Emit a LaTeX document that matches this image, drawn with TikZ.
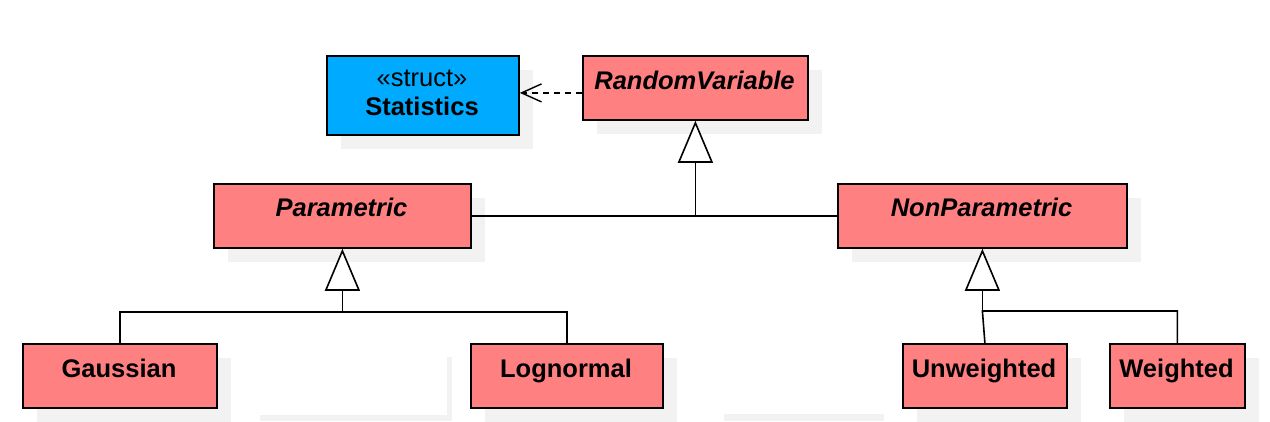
\documentclass[tikz,border=0pt]{standalone}
\usepackage{fontspec}
\setmainfont{Liberation Sans}
\usetikzlibrary{arrows.meta,shadows}
\definecolor{pinkc}{HTML}{FF8080}
\definecolor{bluec}{HTML}{00AAFF}
\definecolor{shadowc}{HTML}{F2F2F2}
\begin{document}
\begin{tikzpicture}[x=1pt,y=-1pt,
  box/.style={draw=black, line width=1.8pt, rectangle, inner sep=0pt, anchor=north west, fill=pinkc,
    drop shadow={shadow xshift=14pt, shadow yshift=-14pt, fill=shadowc, opacity=1}},
  lbl/.style={anchor=base, inner sep=0pt, font=\fontsize{25.5}{30}\selectfont\bfseries},
  ilbl/.style={lbl, font=\fontsize{25.5}{30}\selectfont\bfseries\itshape},
  conn/.style={line width=1.6pt, draw=black},
  inh/.style={conn, -{Triangle[length=42pt,width=35pt,fill=white,line width=1.6pt]}},
  dep/.style={line width=1.4pt, dash pattern=on 6pt off 5pt, -{Straight Barb[length=20pt,width=18pt,line width=1.4pt]}}
]
\useasboundingbox (0,0) rectangle (1270,421);
% stray shadow fragments of hidden elements
\fill[shadowc] (447,357) rectangle (452,421);
\fill[shadowc] (260,415) rectangle (452,421);
\fill[shadowc] (724,414) rectangle (884,421);

% classes
\node[box, fill=bluec, minimum width=192pt, minimum height=79pt] (stat) at (326,55) {};
\node[box, minimum width=225pt, minimum height=64pt] (rv) at (582,55) {};
\node[box, minimum width=257pt, minimum height=64pt] (par) at (213,183) {};
\node[box, minimum width=289pt, minimum height=64pt] (np) at (837,183) {};
\node[box, minimum width=194pt, minimum height=64pt] (gau) at (22,343) {};
\node[box, minimum width=192pt, minimum height=64pt] (logn) at (470,343) {};
\node[box, minimum width=164pt, minimum height=64pt] (uw) at (902,343) {};
\node[box, minimum width=135pt, minimum height=64pt] (wt) at (1109,343) {};

% labels
\node[lbl, font=\fontsize{25.5}{30}\selectfont] (tster) at (422,86) {«struct»};
\node[lbl] (tstat) at (422,115) {Statistics};
\node[ilbl] (trv) at (694.5,89) {RandomVariable};
\node[ilbl] (tpar) at (341.5,216) {Parametric};
\node[ilbl] (tnp) at (981.5,216) {NonParametric};
\node[lbl] (tgau) at (119,377) {Gaussian};
\node[lbl] (tlogn) at (566,377) {Lognormal};
\node[lbl] (tuw) at (984,377) {Unweighted};
\node[lbl] (twt) at (1176.5,377) {Weighted};

% connectors
\draw[dep] ([yshift=-5pt]rv.west) -- ([yshift=-5pt]stat.east |- rv.west);

\coordinate (j1) at (rv.south |- par.east);
\draw[conn] (par.east) -- (np.west);
\draw[inh] (j1) -- (rv.south);

\coordinate (j2) at (par.south |- 0,312);
\draw[conn] (gau.north) |- (j2) -| (logn.north);
\draw[inh] (j2) -- (par.south);

\coordinate (j3) at (np.south |- 0,311);
\draw[conn] (uw.north) -- (j3) -| (wt.north);
\draw[inh] (j3) -- (np.south);
\end{tikzpicture}
\end{document}
